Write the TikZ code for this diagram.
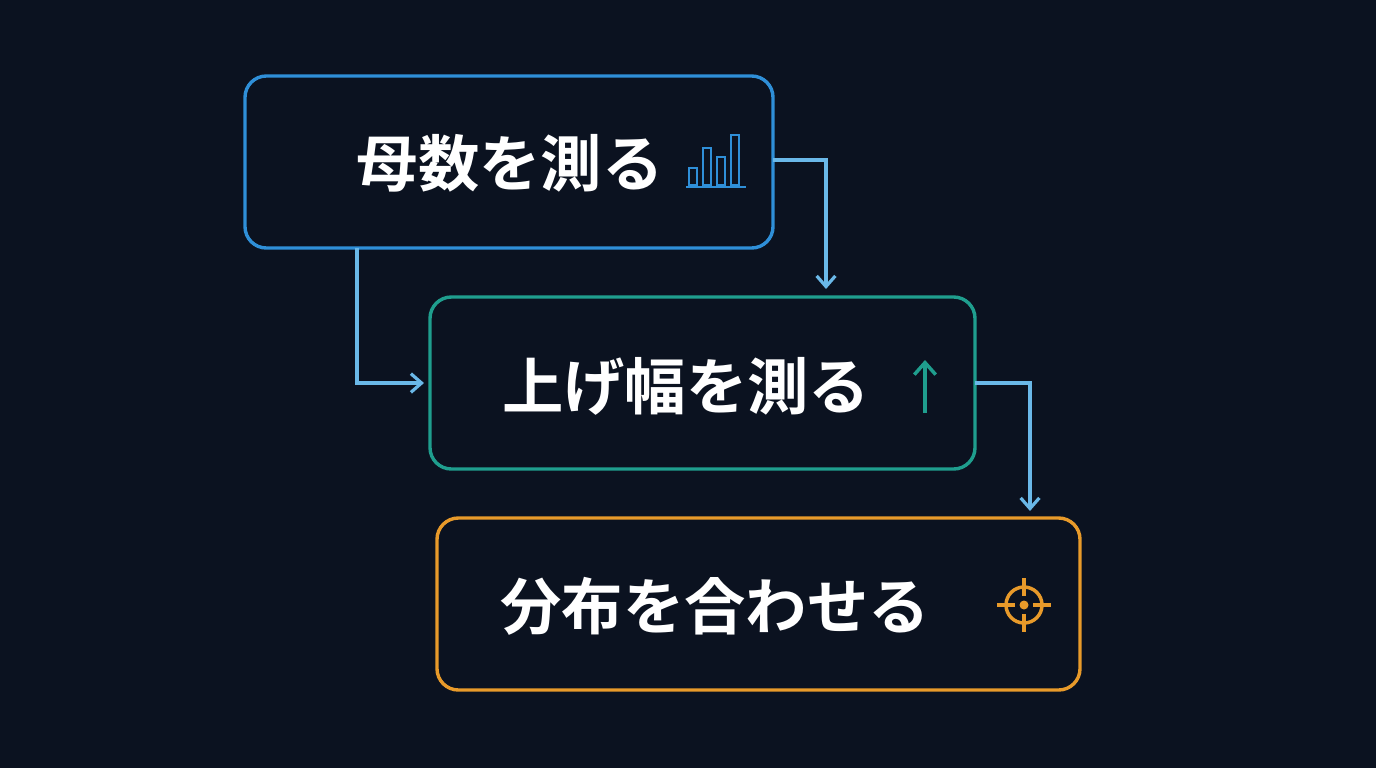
\documentclass[tikz,border=0pt]{standalone}
\usepackage{fontspec}
\newfontfamily\cjk{Noto Sans CJK JP}[BoldFont={Noto Sans CJK JP Bold}]
\usetikzlibrary{arrows.meta}
\definecolor{bg}{HTML}{0B1220}
\definecolor{cblue}{HTML}{2F8FD8}
\definecolor{cteal}{HTML}{1F9E8E}
\definecolor{corange}{HTML}{E89A2A}
\definecolor{clink}{HTML}{6AB8E8}
\begin{document}
\begin{tikzpicture}[x=0.75pt,y=-0.75pt,
 box/.style={draw,line width=3.4pt*0.75,rounded corners=16pt},
 lbl/.style={text=white,font=\cjk\bfseries\fontsize{46pt}{52pt}\selectfont,anchor=center},
 link/.style={draw=clink,line width=2.4pt,-{Straight Barb[length=8pt,width=14pt]}}]
\fill[bg] (0,0) rectangle (1376,768);
\useasboundingbox (0,0) rectangle (1376,768);
\node[box,draw=cblue,minimum width=528*0.75pt,minimum height=172*0.75pt] (b1) at (509,162) {};
\node[box,draw=cteal,minimum width=545*0.75pt,minimum height=172*0.75pt] (b2) at (702.5,383) {};
\node[box,draw=corange,minimum width=643*0.75pt,minimum height=172*0.75pt] (b3) at (758.5,604) {};
\node[lbl] (t1) at (510,163) {母数を測る};
\node[lbl] (t2) at (686,386) {上げ幅を測る};
\node[lbl] (t3) at (715,606) {分布を合わせる};
% bar chart icon
\begin{scope}[draw=cblue,line width=2pt]
\draw (686,187) -- (746,187);
\draw (689,185) rectangle (697,168);
\draw (703,185) rectangle (711,148);
\draw (717,185) rectangle (725,157);
\draw (731,185) rectangle (739,135);
\end{scope}
% up arrow
\draw[cteal,line width=2.6pt,-{Straight Barb[length=9pt,width=16pt]}] (925,413) -- (925,360);
% crosshair
\begin{scope}[draw=corange,line width=2.6pt]
\draw (1024,605) circle (18);
\draw (1024,578) -- (1024,596) (1024,614) -- (1024,632) (997,605) -- (1015,605) (1033,605) -- (1051,605);
\fill[corange] (1024,605) circle (4.5);
\end{scope}
\coordinate (c1) at (773,160);
\coordinate (c2) at (357,248);
\coordinate (c3) at (975,383);
\draw[link] (c1) -- (826,160) -- (826,289);
\draw[link] (c2) -- (357,383) -- (424,383);
\draw[link] (c3) -- (1030,383) -- (1030,511);
\end{tikzpicture}
\end{document}
